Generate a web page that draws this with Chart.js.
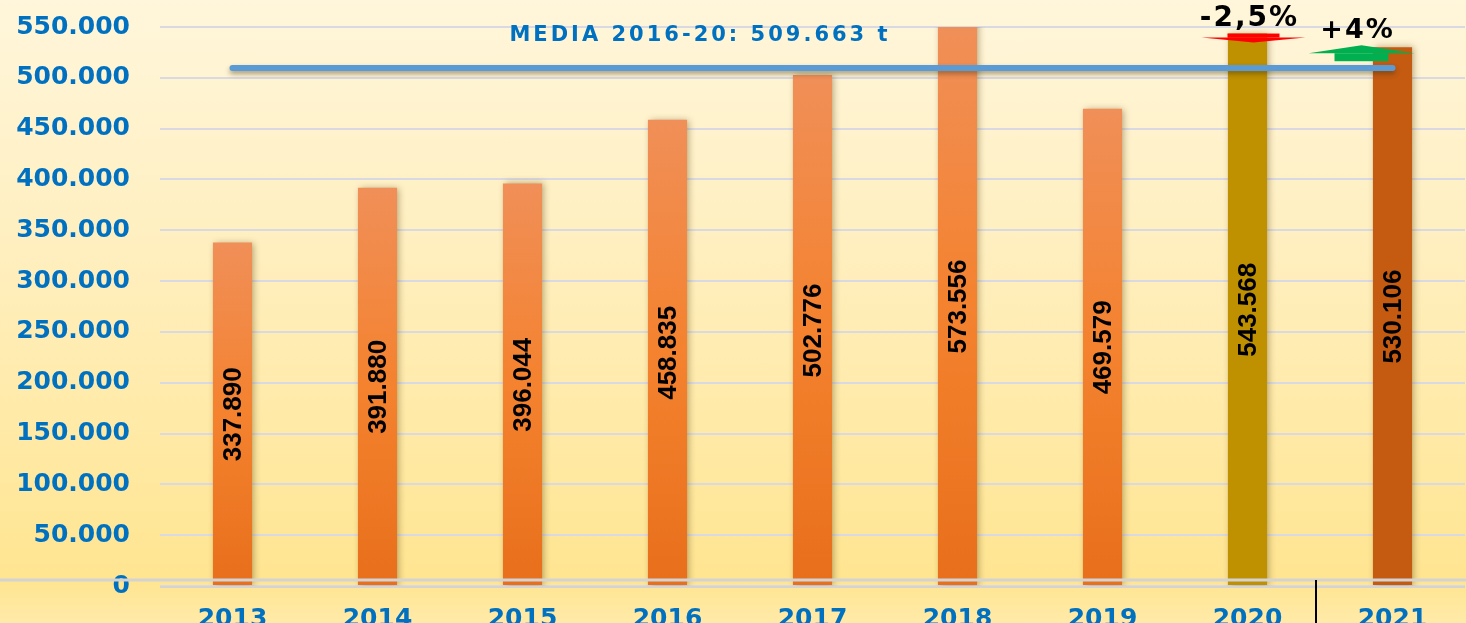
<!DOCTYPE html>
<html>
<head>
<meta charset="utf-8">
<script src="https://cdn.jsdelivr.net/npm/chart.js@4"></script>
<style>
    html, body {
        margin: 0;
        padding: 0;
        overflow: hidden;
        width: 1466px;
        height: 623px;
    }
    body {
        background: linear-gradient(to bottom, #fff6db 0px, #ffefbf 250px, #ffe591 580px, #ffeaa8 623px);
    }
    #wrap {
        position: relative;
        width: 1466px;
        height: 640px;
    }
</style>
</head>
<body>
<div id="wrap"><canvas id="chart"></canvas></div>
<script>
// datos
const years = ["2013", "2014", "2015", "2016", "2017", "2018", "2019", "2020", "2021"];
const tonnes = [337890, 391880, 396044, 458835, 502776, 573556, 469579, 543568, 530106];
const mediaValue = 509663;
const mediaText = "MEDIA 2016-20: 509.663 t";
const yMax = 550000;
const yStep = 50000;
const changeYears = ["2020", "2021"];
const changeTexts = ["-2,5%", "+4%"];

const blue = "#0070c0";

function fmt(n) {
    return String(n).replace(/\B(?=(\d{3})+(?!\d))/g, ".");
}

function barColor(ctx) {
    const i = ctx.dataIndex;
    if (years[i] === "2020") return "#bf9000";
    if (years[i] === "2021") return "#c55a11";
    const chart = ctx.chart;
    const area = chart.chartArea;
    if (!area) return "#ef7a26";
    const top = Math.max(chart.scales.y.getPixelForValue(tonnes[i]), area.top);
    const g = chart.ctx.createLinearGradient(0, top, 0, area.bottom);
    g.addColorStop(0, "#f08f58");
    g.addColorStop(0.5, "#f4822e");
    g.addColorStop(1, "#e86f1c");
    return g;
}

const extras = {
    id: "extras",
    beforeDatasetDraw(chart, args) {
        const c = chart.ctx;
        c.save();
        if (args.index === 0) {
            c.shadowColor = "rgba(90,70,20,0.45)";
            c.shadowBlur = 7;
            c.shadowOffsetX = 2;
        } else {
            c.shadowColor = "rgba(60,50,20,0.45)";
            c.shadowBlur = 5;
            c.shadowOffsetY = 3;
        }
    },
    afterDatasetDraw(chart) {
        chart.ctx.restore();
    },
    afterDatasetsDraw(chart) {
        const c = chart.ctx;
        const x = chart.scales.x;
        const y = chart.scales.y;
        const area = chart.chartArea;

        // doble linea base
        c.save();
        c.strokeStyle = "#d3d3d3";
        c.lineWidth = 3;
        c.beginPath();
        c.moveTo(0, area.bottom - 6);
        c.lineTo(chart.width, area.bottom - 6);
        c.stroke();
        c.lineWidth = 2;
        c.beginPath();
        c.moveTo(area.left, area.bottom + 1);
        c.lineTo(area.right, area.bottom + 1);
        c.stroke();

        // separador 2020 | 2021
        const sx = (x.getPixelForValue(7) + x.getPixelForValue(8)) / 2 - 4;
        c.strokeStyle = "#000";
        c.lineWidth = 2;
        c.beginPath();
        c.moveTo(sx, area.bottom - 6);
        c.lineTo(sx, chart.height);
        c.stroke();

        // etiquetas de las barras
        c.fillStyle = "#000";
        c.font = "bold 26px 'Liberation Sans'";
        c.textAlign = "center";
        c.textBaseline = "middle";
        tonnes.forEach((v, i) => {
            const px = x.getPixelForValue(i);
            const top = Math.max(y.getPixelForValue(v), area.top);
            const cy = (top + area.bottom) / 2;
            c.save();
            c.translate(px + 1, cy);
            c.rotate(-Math.PI / 2);
            c.fillText(fmt(v), 0, 0);
            c.restore();
        });

        // media
        c.fillStyle = blue;
        c.font = "bold 21px 'DejaVu Sans'";
        c.letterSpacing = "3px";
        c.fillText(mediaText, 700, y.getPixelForValue(mediaValue) - 32);

        // flecha roja (2020)
        const i20 = years.indexOf(changeYears[0]);
        const x20 = x.getPixelForValue(i20) + 6;
        const t20 = y.getPixelForValue(tonnes[i20]);
        c.fillStyle = "#ff0000";
        c.fillRect(x20 - 26, t20, 52, 4);
        c.beginPath();
        c.moveTo(x20 - 52, t20 + 4);
        c.lineTo(x20 + 52, t20 + 4);
        c.lineTo(x20, t20 + 9);
        c.closePath();
        c.fill();
        c.fillStyle = "#000";
        c.font = "bold 28px 'DejaVu Sans'";
        c.letterSpacing = "2px";
        c.fillText(changeTexts[0], x20 - 4, t20 - 15);

        // flecha verde (2021)
        const i21 = years.indexOf(changeYears[1]);
        const x21 = x.getPixelForValue(i21) - 31;
        const t21 = y.getPixelForValue(tonnes[i21]);
        c.fillStyle = "#00b050";
        c.beginPath();
        c.moveTo(x21, t21 - 2);
        c.lineTo(x21 + 53, t21 + 6);
        c.lineTo(x21 - 53, t21 + 6);
        c.closePath();
        c.fill();
        c.fillRect(x21 - 27, t21 + 6, 54, 8);
        c.fillStyle = "#000";
        c.font = "bold 27px 'DejaVu Sans'";
        c.fillText(changeTexts[1], x21 - 4, t21 - 16);
        c.restore();
    }
};

const ctx = document.getElementById("chart").getContext("2d");

new Chart(ctx, {
    type: "bar",
    data: {
        labels: years,
        datasets: [{
            data: tonnes,
            backgroundColor: barColor,
            borderWidth: 0,
            barPercentage: 0.27,
            categoryPercentage: 1,
            order: 2
        }, {
            type: "line",
            data: years.map(() => mediaValue),
            borderColor: "#5b9bd5",
            borderWidth: 6,
            borderCapStyle: "round",
            pointRadius: 0,
            fill: false,
            order: 1
        }]
    },
    options: {
        responsive: true,
        maintainAspectRatio: false,
        animation: false,
        layout: {
            padding: { top: 27, left: 0, right: 1, bottom: 0 }
        },
        plugins: {
            legend: { display: false },
            tooltip: { enabled: false }
        },
        scales: {
            x: {
                grid: { display: false },
                border: { display: false },
                ticks: {
                    color: blue,
                    padding: 10,
                    font: { family: "DejaVu Sans", weight: "bold", size: 25 }
                },
                afterFit(scale) {
                    scale.height = 54;
                    scale.paddingLeft = 0;
                    scale.paddingRight = 0;
                }
            },
            y: {
                min: 0,
                max: yMax,
                grid: { color: "#d9d9e4", lineWidth: 2, drawTicks: false },
                border: { display: false },
                ticks: {
                    stepSize: yStep,
                    color: blue,
                    padding: 30,
                    font: { family: "DejaVu Sans", weight: "bold", size: 25 },
                    callback: (v) => fmt(v)
                },
                afterFit(scale) {
                    scale.width = 160;
                    scale.paddingTop = 0;
                    scale.paddingBottom = 0;
                }
            }
        }
    },
    plugins: [extras]
});
</script>
</body>
</html>
